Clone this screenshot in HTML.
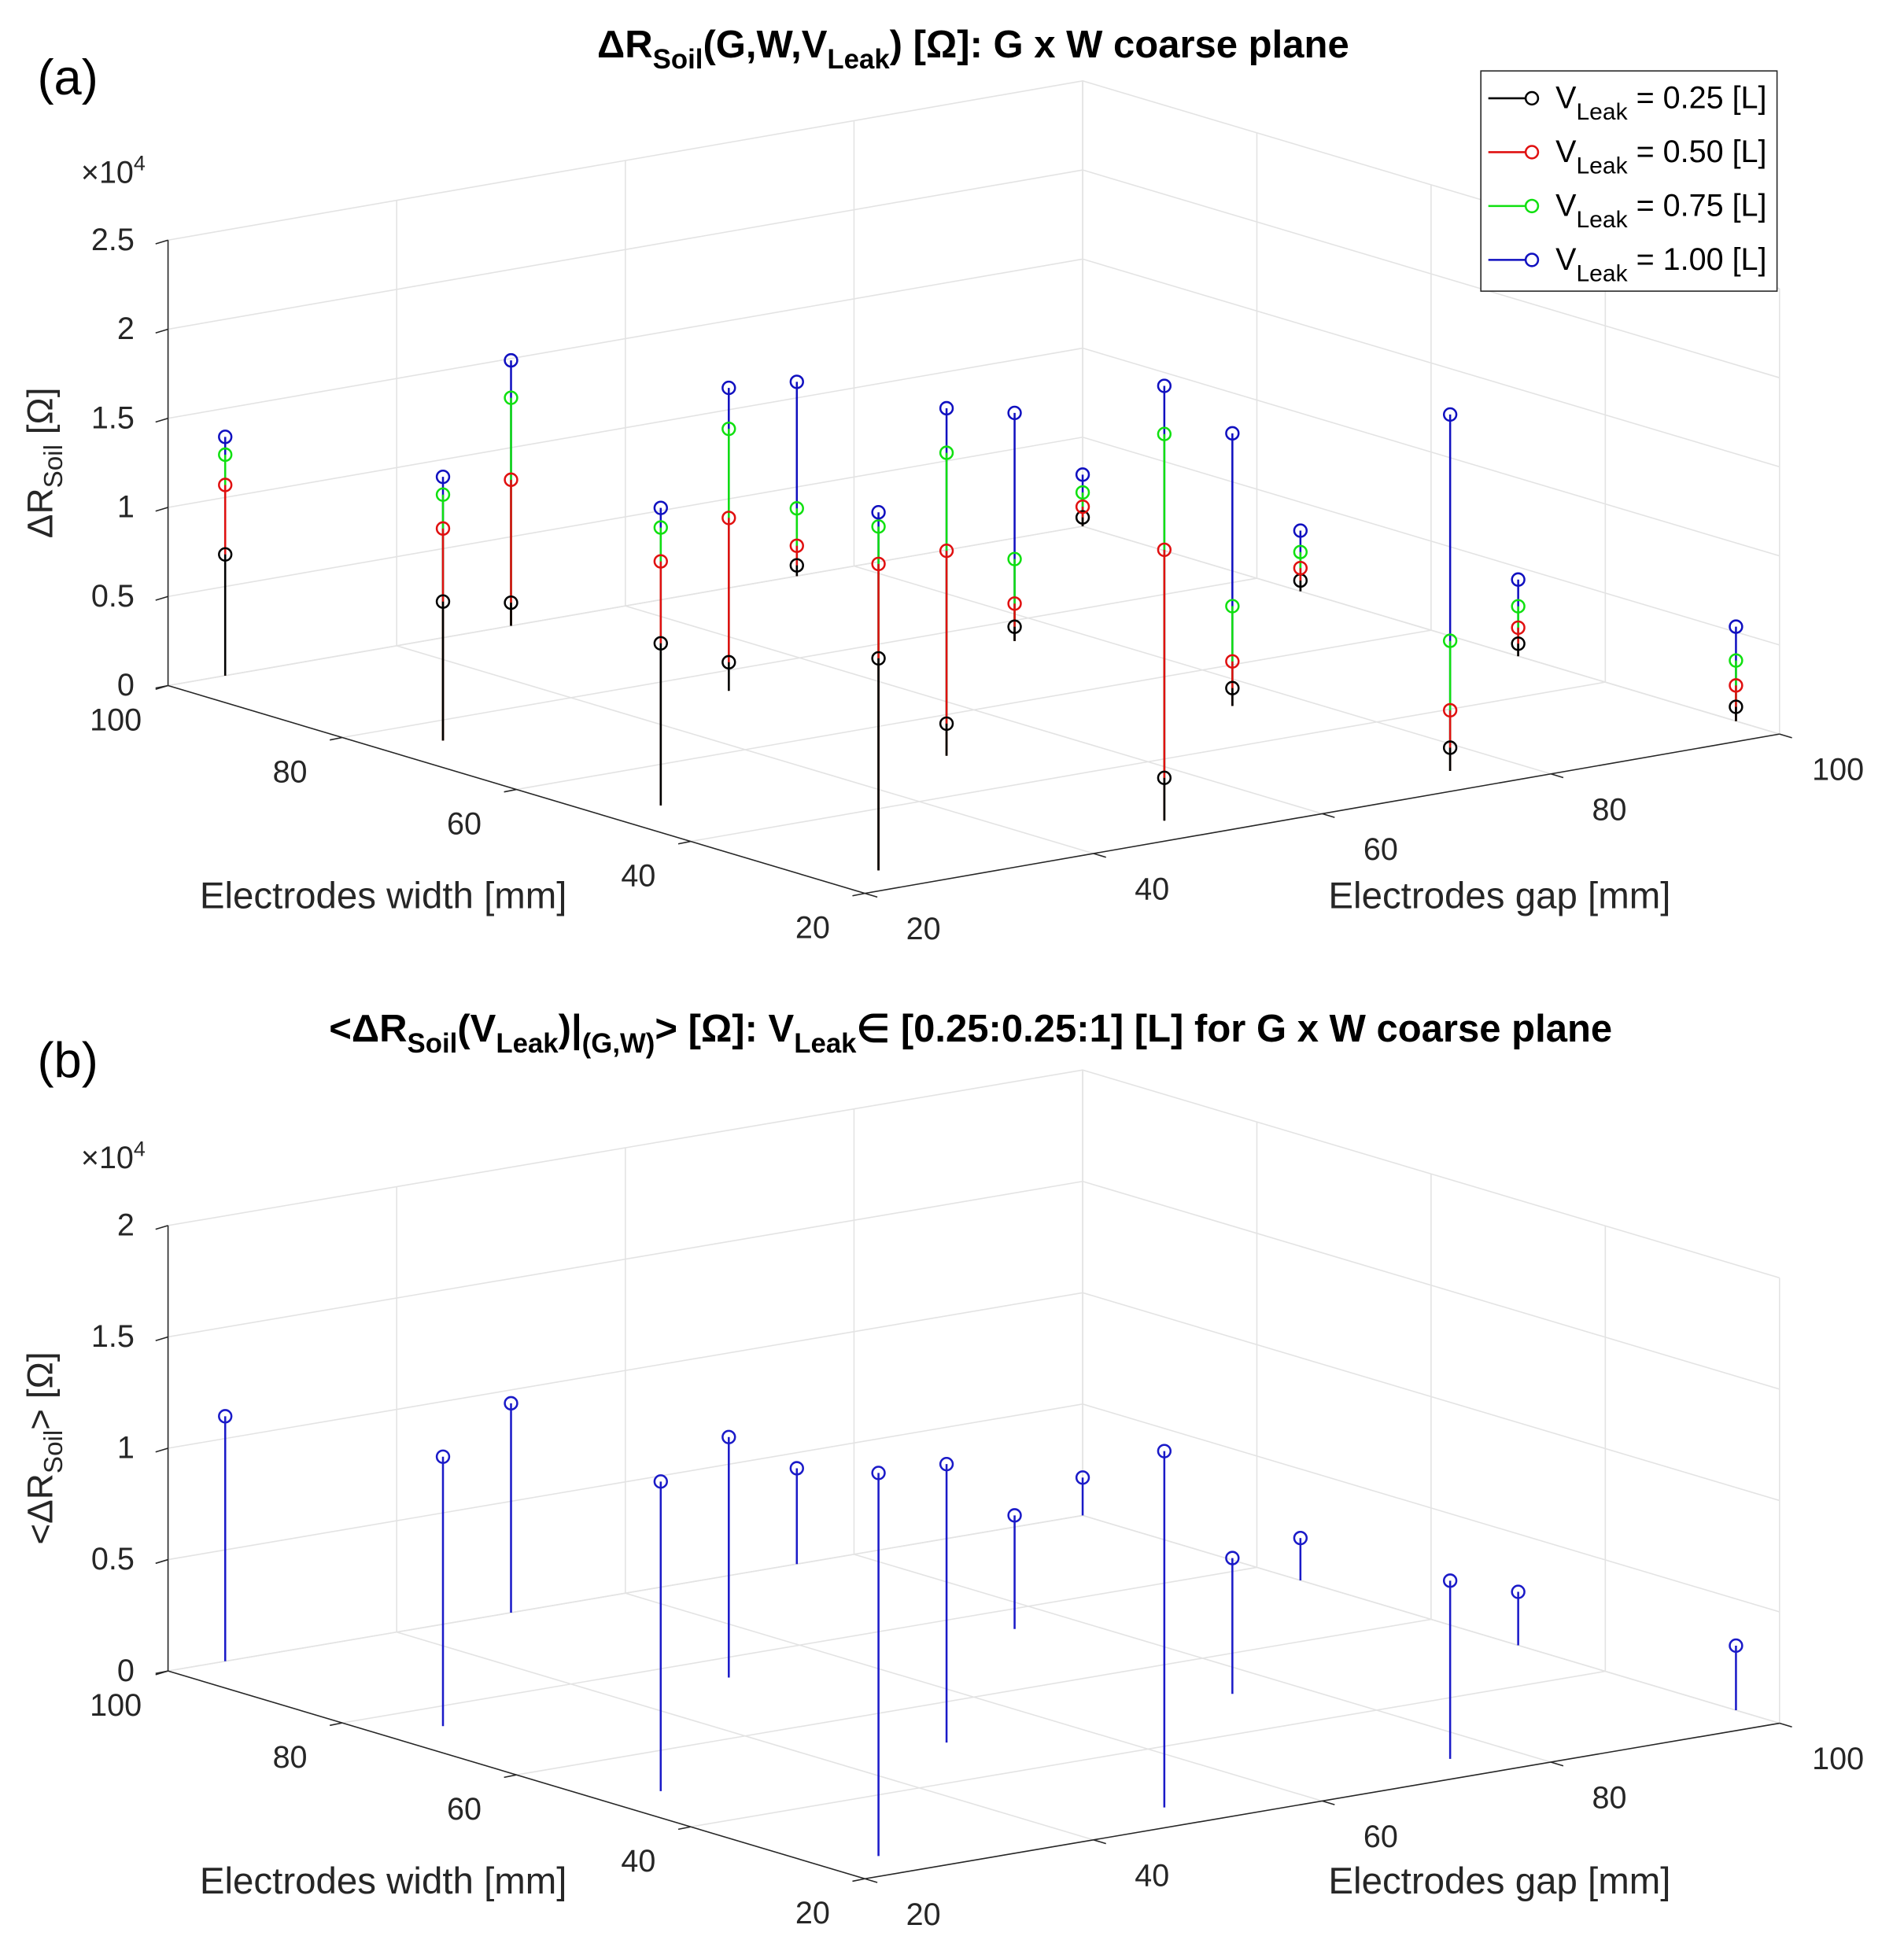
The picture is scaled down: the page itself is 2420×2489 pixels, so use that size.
<!DOCTYPE html>
<html><head><meta charset="utf-8"><style>
html,body{margin:0;padding:0;background:#fff;}
svg{display:block;font-family:"Liberation Sans",sans-serif;}
</style></head><body>
<svg id="chart" width="2420" height="2489" viewBox="0 0 1530 1573.7" xmlns="http://www.w3.org/2000/svg">
<rect width="1530" height="1573.7" fill="#fff"/>
<g id="pa"></g>
<g id="pb"></g>
<text x="30" y="76" font-size="40" fill="#000">(a)</text>
<text x="30" y="866" font-size="40" fill="#000">(b)</text>
<text x="782" y="46" font-size="31" font-weight="bold" text-anchor="middle" fill="#000">ΔR<tspan font-size="22" dy="9">Soil</tspan><tspan dy="-9">(G,W,V</tspan><tspan font-size="22" dy="9">Leak</tspan><tspan dy="-9">) [Ω]: G x W coarse plane</tspan></text>
<text x="780" y="837" font-size="31" font-weight="bold" text-anchor="middle" fill="#000">&lt;ΔR<tspan font-size="22" dy="9">Soil</tspan><tspan dy="-9">(V</tspan><tspan font-size="22" dy="9">Leak</tspan><tspan dy="-9">)|</tspan><tspan font-size="22" dy="9">(G,W)</tspan><tspan dy="-9">&gt; [Ω]: V</tspan><tspan font-size="22" dy="9">Leak</tspan><tspan dy="-9">∈ [0.25:0.25:1] [L] for G x W coarse plane</tspan></text>
<g>
<rect x="1190" y="57" width="238" height="177" fill="#fff" stroke="#262626" stroke-width="1"/>
<g id="legitems"></g>
</g>
</svg>
<script>
const gaps   = [25,25,25,25, 50,50,50,50, 75,75,75,75, 100,100,100,100];
const widths = [25,50,75,100, 25,50,75,100, 25,50,75,100, 25,50,75,100];
const v025 = [11900,9100,7800,6800, 2400,1800,1600,1300, 1300,1000,800,600, 800,700,600,500];
const v050 = [17200,13700,11900,10700, 15200,11500,9700,8200, 3400,2500,2100,1700, 2000,1600,1300,1100];
const v075 = [19300,15600,13800,12400, 21700,17000,14700,12800, 7300,5600,4600,3800, 3400,2800,2200,1900];
const v100 = [20100,16700,14800,13400, 24400,19500,17000,14900, 20000,15300,12800,10900, 5300,4300,3400,2900];
const vMean = [17200,13900,12100,11000, 16000,12500,10800,9400, 8000,6100,5100,4300, 2900,2400,1900,1700];
const axisTicks = [20,40,60,80,100];
const zTicksA = [0,5000,10000,15000,20000,25000];
const zTickLabelsA = ["0","0.5","1","1.5","2","2.5"];
const zTicksB = [0,5000,10000,15000,20000];
const zTickLabelsB = ["0","0.5","1","1.5","2"];
const legendLabels = ["= 0.25 [L]","= 0.50 [L]","= 0.75 [L]","= 1.00 [L]"];
const colors = ["#000000","#e01010","#10e010","#1010c0"];

const NS="http://www.w3.org/2000/svg";
function mk(tag,attrs,parent){const e=document.createElementNS(NS,tag);for(const k in attrs)e.setAttribute(k,attrs[k]);parent.appendChild(e);return e;}

function makeProj(p){
  return function(g,w,z){
    const a=(g-20)/80,b=(w-20)/80;
    return [p.fx+a*p.R[0]+b*p.L[0], p.fy+a*p.R[1]+b*p.L[1]-z*p.zs];
  };
}

function drawPanel(root,p,zTicks,zLabels,series,zLabelParts){
  const P=makeProj(p);
  const zmax=zTicks[zTicks.length-1];
  const grid="#e3e3e3";
  axisTicks.forEach(g=>{
    const a=P(g,100,0),b=P(g,100,zmax);
    const l=mk('line',{x1:a[0],y1:a[1],x2:b[0],y2:b[1],stroke:grid,'stroke-width':1},root);
    
    
    const c=P(g,20,0);
    const l2=mk('line',{x1:a[0],y1:a[1],x2:c[0],y2:c[1],stroke:grid,'stroke-width':1},root);
    
    
  });
  axisTicks.forEach(w=>{
    const a=P(100,w,0),b=P(100,w,zmax);
    const l=mk('line',{x1:a[0],y1:a[1],x2:b[0],y2:b[1],stroke:grid,'stroke-width':1},root);
    
    
    const c=P(20,w,0);
    const l2=mk('line',{x1:a[0],y1:a[1],x2:c[0],y2:c[1],stroke:grid,'stroke-width':1},root);
    
    
  });
  zTicks.forEach(z=>{
    const a=P(20,100,z),b=P(100,100,z),c=P(100,20,z);
    const l=mk('polyline',{points:`${a} ${b} ${c}`,fill:'none',stroke:grid,'stroke-width':1},root);
    
    
  });
  const ax="#262626";
  const o=P(20,100,0),ot=P(20,100,zmax),f=P(20,20,0),r=P(100,20,0);
  let e=mk('line',{x1:o[0],y1:o[1],x2:ot[0],y2:ot[1],stroke:ax,'stroke-width':1},root);
  
  e=mk('line',{x1:o[0],y1:o[1],x2:f[0],y2:f[1],stroke:ax,'stroke-width':1},root);
  
  e=mk('line',{x1:f[0],y1:f[1],x2:r[0],y2:r[1],stroke:ax,'stroke-width':1},root);
  
  zTicks.forEach((z,i)=>{
    const q=P(20,100,z);
    const t=mk('line',{x1:q[0],y1:q[1],x2:q[0]-10,y2:q[1]+3,stroke:ax,'stroke-width':1},root);
    
    const tx=mk('text',{x:q[0]-27,y:q[1]+8,'font-size':25,'text-anchor':'end',fill:ax},root);
    tx.textContent=zLabels[i];
    
  });
  axisTicks.forEach(w=>{
    const q=P(20,w,0);
    const t=mk('line',{x1:q[0],y1:q[1],x2:q[0]-10,y2:q[1]+2,stroke:ax,'stroke-width':1},root);
    
    const tx=mk('text',{x:q[0]-42,y:q[1]+36,'font-size':25,'text-anchor':'middle',fill:ax},root);
    tx.textContent=w;
    
  });
  axisTicks.forEach(g=>{
    const q=P(g,20,0);
    const t=mk('line',{x1:q[0],y1:q[1],x2:q[0]+10,y2:q[1]+3,stroke:ax,'stroke-width':1},root);
    
    const tx=mk('text',{x:q[0]+47,y:q[1]+37,'font-size':25,'text-anchor':'middle',fill:ax},root);
    tx.textContent=g;
    
  });
  const ex=mk('text',{x:ot[0]-70,y:ot[1]-46,'font-size':25,fill:ax},root);
  ex.innerHTML='×10<tspan font-size="17" dy="-10">4</tspan>';
  
  const wt=mk('text',{x:308,y:f[1]+12,'font-size':30,'text-anchor':'middle',fill:ax},root);
  wt.textContent='Electrodes width [mm]';
  
  const gt=mk('text',{x:1205,y:f[1]+12,'font-size':30,'text-anchor':'middle',fill:ax},root);
  gt.textContent='Electrodes gap [mm]';
  
  const zc=(o[1]+ot[1])/2;
  const zt=mk('text',{x:0,y:0,'font-size':29,'text-anchor':'middle',fill:ax,transform:`translate(42,${zc}) rotate(-90)`},root);
  zt.innerHTML=zLabelParts;
  
  for(let i=0;i<gaps.length;i++){
    series.slice().reverse().forEach(s=>{
      const b=P(gaps[i],widths[i],0),t=P(gaps[i],widths[i],s.vals[i]);
      const l=mk('line',{x1:b[0],y1:b[1],x2:t[0],y2:t[1],stroke:s.color,'stroke-width':1.6},root);
      
    });
    series.forEach(s=>{
      const t=P(gaps[i],widths[i],s.vals[i]);
      const c=mk('circle',{cx:t[0],cy:t[1],r:5,fill:'none',stroke:s.color,'stroke-width':1.6},root);
      
    });
  }
}

drawPanel(document.getElementById('pa'),
  {fx:695,fy:718,R:[735,-128],L:[-560,-167],zs:358/25000},
  zTicksA,zTickLabelsA,
  [{vals:v025,color:colors[0]},{vals:v050,color:colors[1]},{vals:v075,color:colors[2]},{vals:v100,color:colors[3]}],
  'ΔR<tspan font-size="21" dy="8">Soil</tspan><tspan dy="-8"> [Ω]</tspan>');
drawPanel(document.getElementById('pb'),
  {fx:695,fy:1510,R:[735,-125],L:[-560,-167],zs:358/20000},
  zTicksB,zTickLabelsB,
  [{vals:vMean,color:"#1a1ac8"}],
  '&lt;ΔR<tspan font-size="21" dy="8">Soil</tspan><tspan dy="-8">&gt; [Ω]</tspan>');

const lg=document.getElementById('legitems');
legendLabels.forEach((t,i)=>{
  const y=79+i*43.3;
  const l=mk('line',{x1:1196,y1:y,x2:1231,y2:y,stroke:colors[i],'stroke-width':1.6},lg);
  
  const c=mk('circle',{cx:1231,cy:y,r:5,fill:'#fff',stroke:colors[i],'stroke-width':1.6},lg);
  
  const tx=mk('text',{x:1250,y:y+8,'font-size':25,fill:'#000'},lg);
  tx.innerHTML='V<tspan font-size="19" dy="9">Leak</tspan><tspan dy="-9"> '+t+'</tspan>';
  
});
</script>
</body></html>
